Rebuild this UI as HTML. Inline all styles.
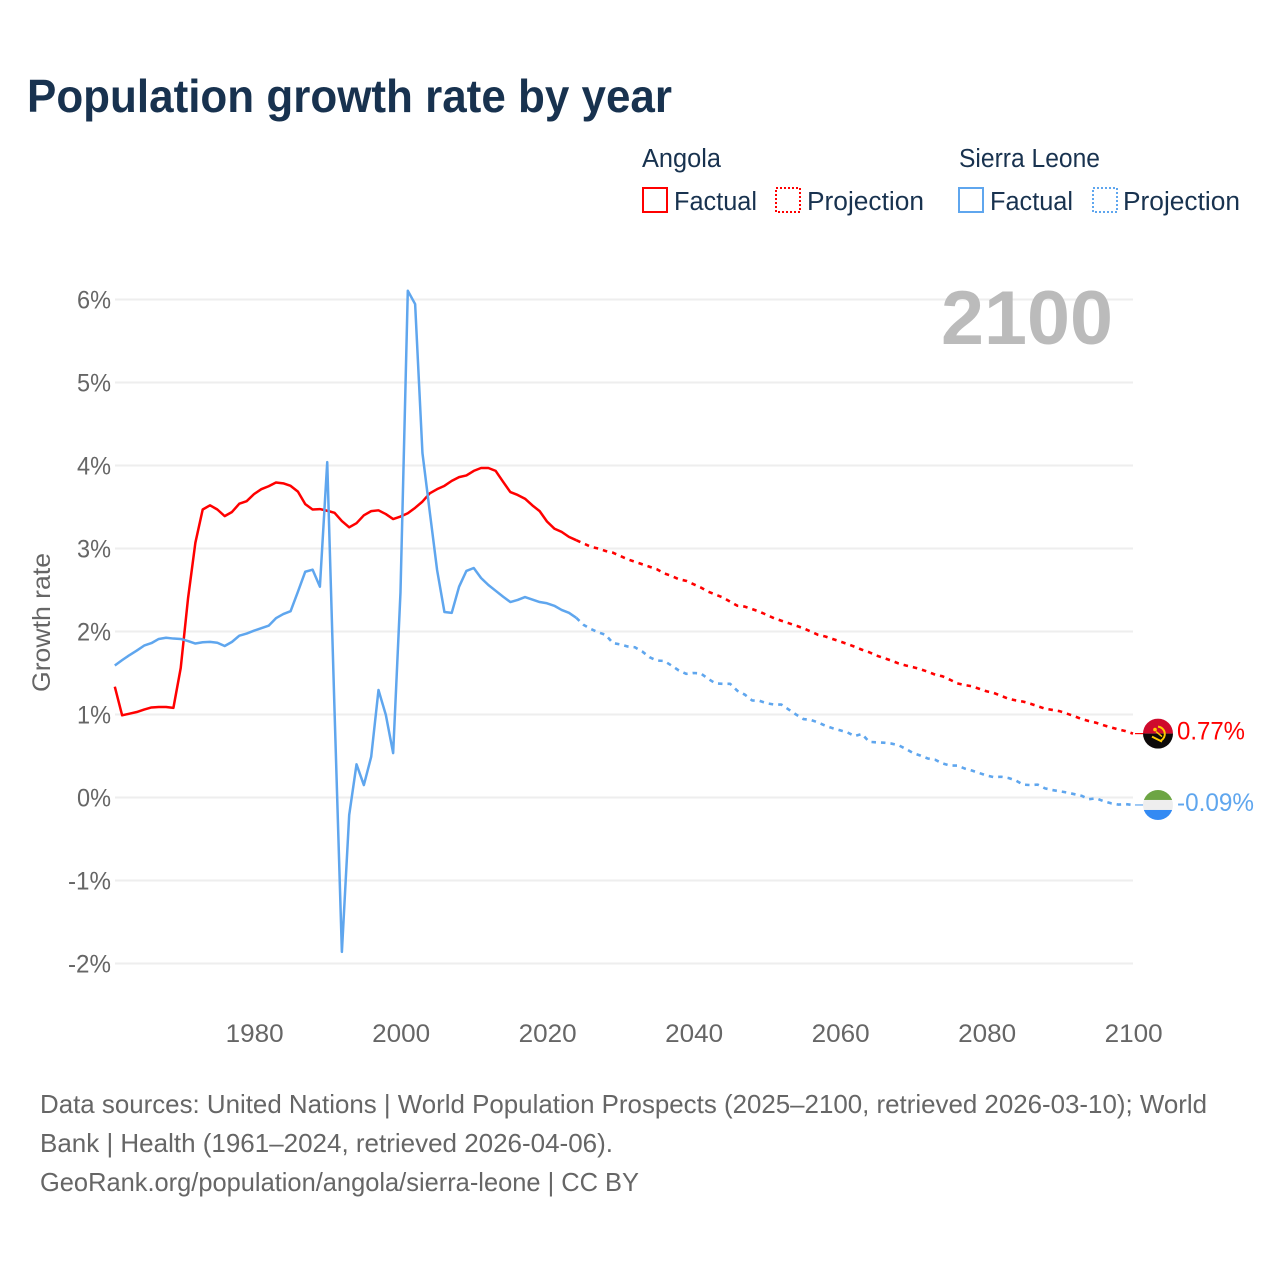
<!DOCTYPE html>
<html lang="en">
<head>
<meta charset="utf-8">
<title>Population growth rate by year</title>
<style>
html,body{margin:0;padding:0;background:#fff;}
svg{display:block;font-family:"Liberation Sans",Arial,sans-serif;}
</style>
</head>
<body>
<svg id="chart" xmlns="http://www.w3.org/2000/svg" width="1280" height="1280" viewBox="0 0 1280 1280">
  <defs>
    <clipPath id="flag-clip"><circle cx="0" cy="0" r="15"></circle></clipPath>
  </defs>
  <rect x="0" y="0" width="1280" height="1280" fill="#fff"></rect>
  <text x="27" y="112" font-size="46" font-weight="700" fill="#18324f" textLength="645" lengthAdjust="spacingAndGlyphs">Population growth rate by year</text>

  <g font-size="25.5" fill="#18324f">
    <text x="642" y="167" textLength="79" lengthAdjust="spacingAndGlyphs">Angola</text>
    <text x="959" y="167" textLength="141" lengthAdjust="spacingAndGlyphs">Sierra Leone</text>
    <g>
      <rect x="643" y="188" width="24" height="24" fill="none" stroke="#ff0000" stroke-width="2"></rect>
      <text x="674" y="210" textLength="83" lengthAdjust="spacingAndGlyphs">Factual</text>
    </g>
    <g>
      <rect x="776" y="188" width="24" height="24" fill="none" stroke="#ff0000" stroke-width="2" stroke-dasharray="2 2"></rect>
      <text x="807" y="210" textLength="117" lengthAdjust="spacingAndGlyphs">Projection</text>
    </g>
    <g>
      <rect x="959" y="188" width="24" height="24" fill="none" stroke="#5fa6ee" stroke-width="2"></rect>
      <text x="990" y="210" textLength="83" lengthAdjust="spacingAndGlyphs">Factual</text>
    </g>
    <g>
      <rect x="1093" y="188" width="24" height="24" fill="none" stroke="#5fa6ee" stroke-width="2" stroke-dasharray="2 2"></rect>
      <text x="1123" y="210" textLength="117" lengthAdjust="spacingAndGlyphs">Projection</text>
    </g>
  </g>

  <g id="grid"></g>
  <g id="y-labels"></g>
  <g id="x-labels"></g>

  <text transform="translate(50,692) rotate(-90)" font-size="25" fill="#666" textLength="139" lengthAdjust="spacingAndGlyphs">Growth rate</text>
  <text x="941" y="344" font-size="76" font-weight="700" fill="#bbbbbb" textLength="172" lengthAdjust="spacingAndGlyphs">2100</text>

  <g id="series"></g>
  <g id="flags"></g>

  <g font-size="26" fill="#666">
    <text x="40" y="1113" textLength="1167" lengthAdjust="spacingAndGlyphs">Data sources: United Nations | World Population Prospects (2025–2100, retrieved 2026-03-10); World</text>
    <text x="40" y="1152" textLength="573" lengthAdjust="spacingAndGlyphs">Bank | Health (1961–2024, retrieved 2026-04-06).</text>
    <text x="40" y="1191" textLength="599" lengthAdjust="spacingAndGlyphs">GeoRank.org/population/angola/sierra-leone | CC BY</text>
  </g>
</svg>

<script>
const firstFactualYear = 1961;
const firstProjectionYear = 2025;
const yTicks = [6, 5, 4, 3, 2, 1, 0, -1, -2];
const xTicks = [1980, 2000, 2020, 2040, 2060, 2080, 2100];
const angolaFactual = [1.335,0.99,1.01,1.03,1.06,1.085,1.09,1.09,1.08,1.56,2.4,3.07,3.47,3.52,3.47,3.39,3.44,3.54,3.57,3.655,3.715,3.75,3.795,3.785,3.755,3.685,3.535,3.47,3.475,3.455,3.43,3.33,3.255,3.305,3.40,3.45,3.46,3.415,3.355,3.385,3.425,3.49,3.565,3.665,3.715,3.755,3.815,3.86,3.88,3.935,3.97,3.97,3.935,3.805,3.68,3.645,3.60,3.52,3.45,3.325,3.24,3.20,3.14,3.10];
const sierraFactual = [1.59,1.655,1.715,1.77,1.83,1.86,1.91,1.925,1.915,1.91,1.885,1.855,1.87,1.875,1.865,1.825,1.875,1.95,1.975,2.01,2.04,2.07,2.16,2.21,2.245,2.48,2.72,2.745,2.54,4.04,1.04,-1.86,-0.21,0.40,0.15,0.49,1.295,0.995,0.535,2.47,6.105,5.945,4.15,3.44,2.74,2.235,2.225,2.54,2.73,2.765,2.645,2.56,2.49,2.42,2.355,2.38,2.415,2.385,2.355,2.34,2.31,2.26,2.225,2.165];
const angolaProjection = [3.06,3.02,3.0,2.97,2.95,2.91,2.87,2.84,2.81,2.78,2.75,2.70,2.67,2.63,2.61,2.57,2.53,2.48,2.445,2.41,2.36,2.31,2.30,2.27,2.24,2.20,2.16,2.13,2.10,2.07,2.04,2.00,1.96,1.94,1.91,1.88,1.85,1.817,1.78,1.75,1.71,1.68,1.65,1.615,1.59,1.57,1.545,1.515,1.48,1.46,1.42,1.375,1.355,1.34,1.31,1.28,1.26,1.225,1.19,1.17,1.155,1.13,1.10,1.07,1.055,1.04,1.01,0.98,0.945,0.92,0.90,0.87,0.845,0.82,0.80,0.77];
const sierraProjection = [2.08,2.03,1.99,1.96,1.86,1.845,1.82,1.81,1.76,1.69,1.65,1.645,1.59,1.53,1.49,1.50,1.495,1.43,1.375,1.37,1.37,1.285,1.24,1.17,1.165,1.135,1.12,1.12,1.06,1.0,0.945,0.935,0.905,0.865,0.835,0.81,0.785,0.74,0.765,0.67,0.665,0.66,0.65,0.63,0.585,0.535,0.505,0.47,0.455,0.41,0.385,0.385,0.35,0.325,0.295,0.265,0.245,0.25,0.235,0.205,0.155,0.15,0.155,0.11,0.09,0.075,0.06,0.04,0.02,-0.02,-0.01,-0.045,-0.07,-0.085,-0.08,-0.09];

const SVG_NS = 'http://www.w3.org/2000/svg';
const xScale = function (year) { return 114.8 + (year - 1961) * 7.325; };
const yScale = function (value) { return 797.5 - value * 83; };

function make(tag, parent) {
  const el = document.createElementNS(SVG_NS, tag);
  parent.appendChild(el);
  return el;
}

function seriesPoints(startYear, values) {
  return values.map(function (v, i) { return [xScale(startYear + i), yScale(v)]; });
}

function toPath(points) {
  return points.map(function (p, i) { return (i ? 'L' : 'M') + p[0].toFixed(2) + ' ' + p[1].toFixed(2); }).join(' ');
}

const gridGroup = document.getElementById('grid');
const yLabelGroup = document.getElementById('y-labels');
const xLabelGroup = document.getElementById('x-labels');
const seriesGroup = document.getElementById('series');
const flagGroup = document.getElementById('flags');

yTicks.forEach(function (tick) {
  const line = make('line', gridGroup);
  
  
  line.setAttribute('x1', 115);
  line.setAttribute('x2', 1133);
  line.setAttribute('y1', yScale(tick));
  line.setAttribute('y2', yScale(tick));
  line.setAttribute('stroke', '#eeeeee');
  line.setAttribute('stroke-width', 2);

  const label = make('text', yLabelGroup);
  
  
  label.setAttribute('x', 111);
  label.setAttribute('y', yScale(tick) + 9);
  label.setAttribute('text-anchor', 'end');
  label.setAttribute('font-size', 25);
  label.setAttribute('fill', '#666');
  label.setAttribute('textLength', tick < 0 ? 43 : 34);
  label.setAttribute('lengthAdjust', 'spacingAndGlyphs');
  label.textContent = tick + '%';
});

xTicks.forEach(function (tick) {
  const label = make('text', xLabelGroup);
  
  
  label.setAttribute('x', 115.5 + (tick - 1961) * 7.325);
  label.setAttribute('y', 1042);
  label.setAttribute('text-anchor', 'middle');
  label.setAttribute('font-size', 25);
  label.setAttribute('fill', '#666');
  label.setAttribute('textLength', 58);
  label.setAttribute('lengthAdjust', 'spacingAndGlyphs');
  label.textContent = String(tick);
});

function drawSeries(slug, color, factual, projection) {
  const factualPoints = seriesPoints(firstFactualYear, factual);
  const projectionPoints = seriesPoints(firstProjectionYear, projection);

  const solid = make('path', seriesGroup);
  
  
  solid.setAttribute('d', toPath(factualPoints));
  solid.setAttribute('fill', 'none');
  solid.setAttribute('stroke', color);
  solid.setAttribute('stroke-width', 2.5);
  solid.setAttribute('stroke-linejoin', 'round');

  const dashed = make('path', seriesGroup);
  
  
  dashed.setAttribute('d', toPath([factualPoints[factualPoints.length - 1]].concat(projectionPoints)));
  dashed.setAttribute('fill', 'none');
  dashed.setAttribute('stroke', color);
  dashed.setAttribute('stroke-width', 2.6);
  dashed.setAttribute('stroke-dasharray', '4.5 5');
  dashed.setAttribute('stroke-linejoin', 'round');

  const last = projectionPoints[projectionPoints.length - 1];
  const connector = make('line', seriesGroup);
  
  
  connector.setAttribute('x1', last[0] + 2);
  connector.setAttribute('x2', 1145);
  connector.setAttribute('y1', last[1]);
  connector.setAttribute('y2', last[1]);
  connector.setAttribute('stroke', color);
  connector.setAttribute('stroke-width', 1.2);
  return last;
}

function part(parent, tag, attrs) {
  const el = make(tag, parent);
  Object.keys(attrs).forEach(function (k) { el.setAttribute(k, attrs[k]); });
  return el;
}

function endLabel(slug, color, y, value, width) {
  const label = make('text', flagGroup);
  
  
  label.setAttribute('x', 1177);
  label.setAttribute('y', y + 6);
  label.setAttribute('font-size', 25);
  label.setAttribute('fill', color);
  label.setAttribute('textLength', width);
  label.setAttribute('lengthAdjust', 'spacingAndGlyphs');
  label.textContent = value.toFixed(2) + '%';
}

const angolaEnd = drawSeries('angola', '#ff0000', angolaFactual, angolaProjection);
const sierraEnd = drawSeries('sierra-leone', '#5fa6ee', sierraFactual, sierraProjection);

const angolaFlag = make('g', flagGroup);


angolaFlag.setAttribute('transform', 'translate(1158,' + angolaEnd[1] + ')');
const angolaClip = part(angolaFlag, 'g', { 'clip-path': 'url(#flag-clip)' });
part(angolaClip, 'rect', { x: -15, y: -15, width: 30, height: 15, fill: '#cf0a2c' });
part(angolaClip, 'rect', { x: -15, y: 0, width: 30, height: 15, fill: '#0d0a0a' });
part(angolaClip, 'path', { d: 'M0 -7 A7.5 7.5 0 0 1 3 7', fill: 'none', stroke: '#ffcb00', 'stroke-width': 2 });
part(angolaClip, 'path', { d: 'M-6 3 L4 8', fill: 'none', stroke: '#ffcb00', 'stroke-width': 2 });
part(angolaClip, 'path', { d: 'M-2 -2 L4 3', fill: 'none', stroke: '#ffcb00', 'stroke-width': 1.5 });
part(angolaClip, 'circle', { cx: -3, cy: -4, r: 1.8, fill: '#ffcb00' });

const sierraFlag = make('g', flagGroup);


sierraFlag.setAttribute('transform', 'translate(1158,' + sierraEnd[1] + ')');
const sierraClip = part(sierraFlag, 'g', { 'clip-path': 'url(#flag-clip)' });
part(sierraClip, 'rect', { x: -15, y: -15, width: 30, height: 10, fill: '#6da544' });
part(sierraClip, 'rect', { x: -15, y: -5, width: 30, height: 10, fill: '#eeeeee' });
part(sierraClip, 'rect', { x: -15, y: 5, width: 30, height: 10, fill: '#338af3' });

endLabel('angola', '#ff0000', angolaEnd[1], angolaProjection[angolaProjection.length - 1], 68);
endLabel('sierra-leone', '#5fa6ee', sierraEnd[1], sierraProjection[sierraProjection.length - 1], 77);
</script>
</body>
</html>
